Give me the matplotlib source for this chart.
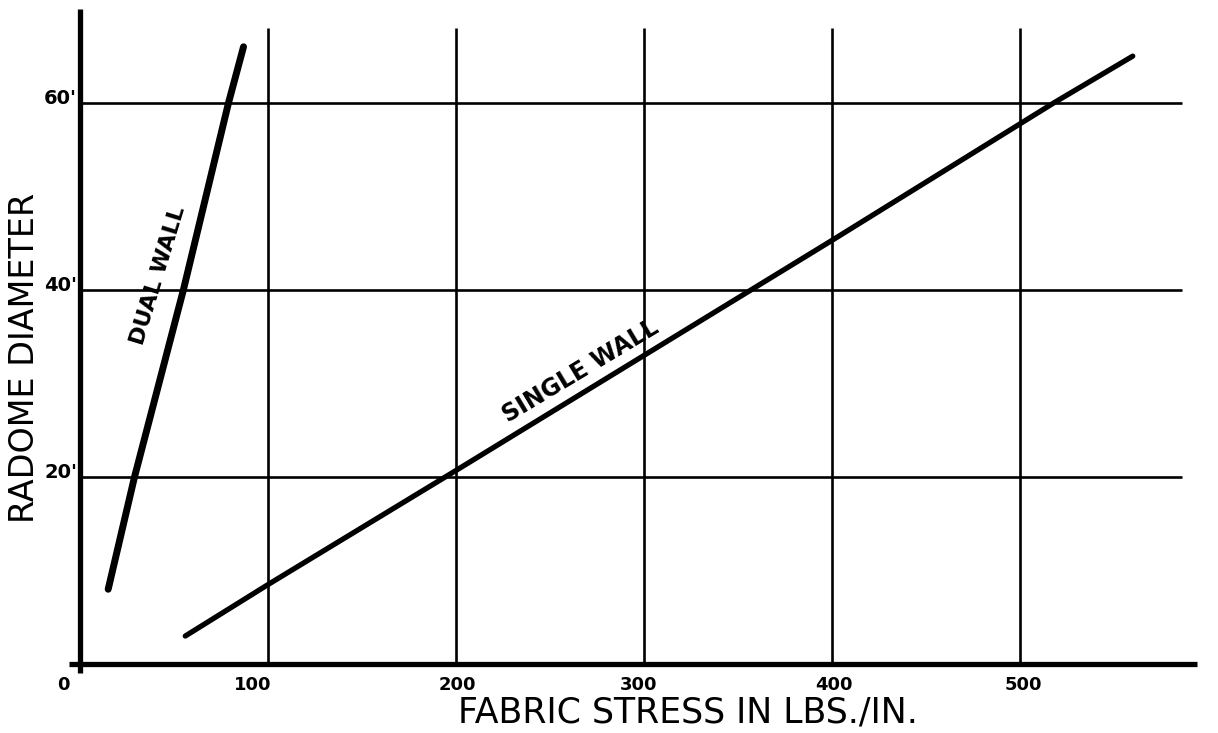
import matplotlib
matplotlib.use("Agg")
import matplotlib.pyplot as plt

# Data
dual_stress = [15, 29, 55, 79, 87]
dual_diam = [8, 20, 40, 60, 66]
single_stress = [56, 100, 200, 300, 400, 518, 560]
single_diam = [3, 8.5, 20.7, 33, 45.3, 60, 65]
x_ticks = [0, 100, 200, 300, 400, 500]
x_tick_labels = ["0", "100", "200", "300", "400", "500"]
y_ticks = [20, 40, 60]
y_tick_labels = ["20'", "40'", "60'"]

plt.rcParams['font.family'] = ['DejaVu Sans']
fig = plt.figure(figsize=(12.18, 7.33), dpi=100)
ax = fig.add_axes([0.0493, 0.0723, 0.944, 0.9277])
ax.set_xlim(-10.6, 601)
ax.set_ylim(-1.7, 71.0)
ax.axis('off')

# grid lines
ax.hlines(y_ticks, 0, 586, colors='black', lw=1.9)
ax.vlines(x_ticks[1:], 0, 68, colors='black', lw=1.9)
# axes
ax.plot([-6, 594], [0, 0], color='black', lw=3.8, solid_capstyle='butt')
ax.plot([0, 0], [-1, 70], color='black', lw=3.8, solid_capstyle='butt')

# curves
ax.plot(dual_stress, dual_diam, color='black', lw=5, solid_capstyle='round')
ax.plot(single_stress, single_diam, color='black', lw=3.8, solid_capstyle='round')

# tick labels
x_label_shift = [-9, -8, 1, -3, 1, 2]
for xv, lab, dx in zip(x_ticks, x_tick_labels, x_label_shift):
    ax.text(xv + dx, -1.3, lab, ha='center', va='top',
            fontsize=13, fontweight='bold')
for yv, lab in zip(y_ticks, y_tick_labels):
    ax.text(-1.5, yv + 0.5, lab, ha='right', va='center',
            fontsize=14, fontweight='bold')

# series labels
ax.text(41.5, 41.5, "DUAL WALL", rotation=73, ha='center', va='center',
        fontsize=16, fontweight='bold')
ax.text(266, 31.3, "SINGLE WALL", rotation=31, ha='center', va='center',
        fontsize=17, fontweight='bold')

# axis labels
fig.text(25/1218, 1 - 358/733, "RADOME DIAMETER", rotation=90,
         ha='center', va='center', fontsize=24)
fig.text(688/1218, 1 - 713/733, "FABRIC STRESS IN LBS./IN.",
         ha='center', va='center', fontsize=25)

fig.savefig("out.png", dpi=100)
